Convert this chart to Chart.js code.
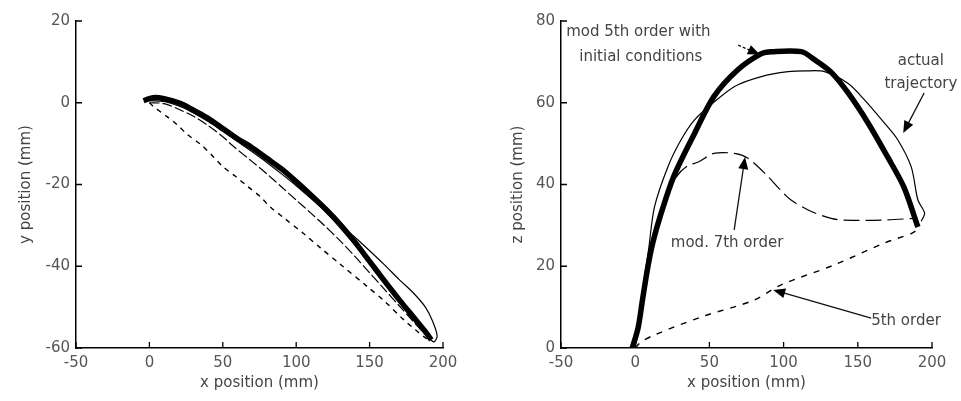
<!DOCTYPE html>
<html>
<head>
<meta charset="utf-8">
<script src="https://cdn.jsdelivr.net/npm/chart.js@4.4.0/dist/chart.umd.min.js"></script>
<style>
body{margin:0;background:#fff;width:961px;height:401px;overflow:hidden;position:relative}
canvas{position:absolute;top:0}
</style>
</head>
<body>
<canvas id="xy" width="480" height="401" style="left:0"></canvas>
<canvas id="xz" width="481" height="401" style="left:480px"></canvas>
<script>
// left panel: x-y plane
const xyMod5X = [-4, 0, 4, 10, 20, 26, 30, 40, 50, 60, 70, 80, 90, 100, 110, 120, 130, 140, 150, 160, 170, 180, 188, 192];
const xyMod5Y = [0.5, 1, 1.3, 1, 0, -1, -1.8, -3.8, -6.3, -8.8, -11, -13.6, -16.2, -19.3, -22.6, -26, -29.8, -34.1, -38.8, -43.5, -48.1, -52.5, -56, -58];
const xyActualX = [0, 10, 20, 30, 40, 50, 60, 70, 80, 90, 100, 110, 120, 130, 140, 150, 160, 170, 180, 188, 193, 196, 194, 191];
const xyActualY = [0.5, 0.3, -0.8, -2.5, -4.6, -7, -9.5, -12, -14.6, -17.4, -20.3, -23.4, -26.6, -29.8, -32.9, -36.2, -39.6, -43.2, -46.6, -50, -53.5, -57, -58.5, -57.8];
const xyMod7X = [0, 10, 20, 30, 40, 50, 57, 70, 80, 91, 100, 110, 118.5, 130, 140, 150, 160, 170, 180, 189];
const xyMod7Y = [0, -0.2, -1.6, -3.3, -5.6, -8.3, -10.6, -14.4, -17.4, -20.9, -23.8, -27, -29.8, -33.8, -37.6, -41.6, -45.6, -49.6, -53.6, -57.2];
const xy5thX = [0, 3, 12, 19, 26, 35, 43, 50, 58.6, 67, 75.6, 82, 91, 105, 116.5, 130, 148.5, 160, 173, 182, 189];
const xy5thY = [0, -1, -3.4, -5.4, -7.8, -10.2, -13, -15.6, -18, -20.5, -23, -25.4, -28, -32, -35.5, -39.5, -45, -48.5, -53, -55.8, -57.8];

// right panel: x-z plane
const xzMod5X = [-2, 2, 5, 8.6, 12, 17.5, 26, 40, 53, 69, 85, 92, 112, 121, 132, 143.5, 157, 170, 181, 190.5];
const xzMod5Z = [0, 5, 12, 20, 26, 33, 42, 52.5, 61.5, 68, 72, 72.5, 72.5, 70.5, 67.5, 62.4, 55, 46.8, 39.4, 29.6];
const xzActualX = [-1, 2, 5, 9, 13, 22, 31, 40, 51, 67, 85, 103, 115, 127.6, 143.5, 154.5, 168, 177, 186, 190.5, 195, 192.7];
const xzActualZ = [0, 6, 14, 24, 34.5, 44.3, 51, 55.8, 59.5, 64, 66.4, 67.6, 67.8, 67.6, 64.7, 60.7, 55, 50.9, 44.3, 36.2, 33, 31];
const xzMod7X = [0, 3, 6, 10, 15, 20, 28, 35, 42.5, 53, 67, 76, 88, 98, 105, 118, 132, 141, 166, 188];
const xzMod7Z = [0, 7, 15, 23, 30, 36, 42, 44.5, 45.5, 47.6, 47.6, 46.4, 42.5, 38.6, 36.2, 33.5, 31.7, 31.3, 31.3, 31.7];
const xz5thX = [0, 4, 13, 44.5, 80, 98, 134, 168, 186, 190.5];
const xz5thZ = [0, 1.5, 3.2, 7.6, 11.7, 15.4, 20.3, 25.7, 28, 29];

const xTicks = [-50, 0, 50, 100, 150, 200];

const xzTexts = [
  {text: 'mod 5th order with', x: -46.5, y: 77.3, align: 'left'},
  {text: 'initial conditions', x: -37.7, y: 71.2, align: 'left'},
  {text: 'actual', x: 192.5, y: 70.2, align: 'center'},
  {text: 'trajectory', x: 192.5, y: 64.6, align: 'center'},
  {text: 'mod. 7th order', x: 24, y: 25.7, align: 'left'},
  {text: '5th order', x: 159, y: 6.5, align: 'left'}
];
const xzArrows = [
  {from: [69.4, 74.1], to: [84, 71.8], dash: [3, 2]},
  {from: [194.7, 62.4], to: [180.6, 52.6]},
  {from: [66.7, 28.9], to: [74, 46.7]},
  {from: [159, 7.3], to: [93, 14.2]}
];

function pts(xs, ys) {
  return xs.map((v, i) => ({x: v, y: ys[i]}));
}

function series(xs, ys, width, dash) {
  return {
    data: pts(xs, ys),
    showLine: true,
    borderColor: '#000',
    borderWidth: width,
    borderDash: dash || [],
    pointRadius: 0,
    tension: 0.3,
    fill: false
  };
}

const inwardTicks = {
  id: 'inwardTicks',
  afterDatasetsDraw(chart) {
    const {ctx, chartArea: a, scales: {x, y}} = chart;
    ctx.save();
    ctx.strokeStyle = '#000';
    ctx.lineWidth = 1.3;
    ctx.beginPath();
    x.ticks.forEach(t => {
      const px = x.getPixelForValue(t.value);
      ctx.moveTo(px, a.bottom);
      ctx.lineTo(px, a.bottom - 6);
    });
    y.ticks.forEach(t => {
      const py = y.getPixelForValue(t.value);
      ctx.moveTo(a.left, py);
      ctx.lineTo(a.left + 6, py);
    });
    ctx.stroke();
    ctx.restore();
  }
};

const notes = {
  id: 'notes',
  afterDraw(chart, args, opts) {
    const {ctx, scales: {x, y}} = chart;
    ctx.save();
    ctx.fillStyle = '#444';
    ctx.font = '15px "DejaVu Sans"';
    ctx.textBaseline = 'middle';
    (opts.texts || []).forEach(t => {
      ctx.textAlign = t.align;
      ctx.fillText(t.text, x.getPixelForValue(t.x), y.getPixelForValue(t.y));
    });
    (opts.arrows || []).forEach(a => {
      const x1 = x.getPixelForValue(a.from[0]), y1 = y.getPixelForValue(a.from[1]);
      const x2 = x.getPixelForValue(a.to[0]), y2 = y.getPixelForValue(a.to[1]);
      const ang = Math.atan2(y2 - y1, x2 - x1);
      ctx.strokeStyle = '#111';
      ctx.fillStyle = '#000';
      ctx.lineWidth = 1.3;
      ctx.setLineDash(a.dash || []);
      ctx.beginPath();
      ctx.moveTo(x1, y1);
      ctx.lineTo(x2 - 8 * Math.cos(ang), y2 - 8 * Math.sin(ang));
      ctx.stroke();
      ctx.setLineDash([]);
      ctx.beginPath();
      ctx.moveTo(x2, y2);
      ctx.lineTo(x2 - 12 * Math.cos(ang) + 5 * Math.sin(ang), y2 - 12 * Math.sin(ang) - 5 * Math.cos(ang));
      ctx.lineTo(x2 - 12 * Math.cos(ang) - 5 * Math.sin(ang), y2 - 12 * Math.sin(ang) + 5 * Math.cos(ang));
      ctx.closePath();
      ctx.fill();
    });
    ctx.restore();
  }
};

function makeChart(id, datasets, yMin, yMax, yTitle, padLeft, leftW, rightPad, texts, arrows) {
  const font = {family: '"DejaVu Sans"', size: 15};
  return new Chart(document.getElementById(id), {
    type: 'scatter',
    data: {datasets},
    options: {
      responsive: false,
      animation: false,
      layout: {padding: {left: padLeft, top: 21, right: rightPad, bottom: 9}},
      plugins: {
        legend: {display: false},
        tooltip: {enabled: false},
        notes: {texts, arrows}
      },
      scales: {
        x: {
          type: 'linear', min: -50, max: 200,
          afterBuildTicks: s => { s.ticks = xTicks.map(v => ({value: v})); },
          afterFit: s => { s.height = 44; },
          grid: {display: true, drawOnChartArea: false, drawTicks: false},
          border: {display: true, color: '#000', width: 1.5},
          ticks: {color: '#555', font, padding: 6},
          title: {display: true, text: 'x position (mm)', color: '#444', font, padding: {top: 2, bottom: 0}}
        },
        y: {
          type: 'linear', min: yMin, max: yMax,
          ticks: {stepSize: 20, color: '#555', font, padding: 6},
          afterFit: s => { s.width = leftW; },
          grid: {display: true, drawOnChartArea: false, drawTicks: false},
          border: {display: true, color: '#000', width: 1.5},
          title: {display: true, text: yTitle, color: '#444', font, padding: {top: 0, bottom: 4}}
        }
      }
    },
    plugins: [inwardTicks, notes]
  });
}

makeChart('xy', [
  series(xy5thX, xy5thY, 1.4, [5, 5]),
  series(xyMod7X, xyMod7Y, 1.2, [10, 3]),
  series(xyActualX, xyActualY, 1.2),
  series(xyMod5X, xyMod5Y, 5.5)
], -60, 20, 'y position (mm)', 17, 59, 37, [], []);

makeChart('xz', [
  series(xz5thX, xz5thZ, 1.4, [6, 7]),
  series(xzMod7X, xzMod7Z, 1.2, [16, 6]),
  series(xzActualX, xzActualZ, 1.2),
  series(xzMod5X, xzMod5Z, 5.5)
], 0, 80, 'z position (mm)', 29, 52, 29, xzTexts, xzArrows);
</script>
</body>
</html>
